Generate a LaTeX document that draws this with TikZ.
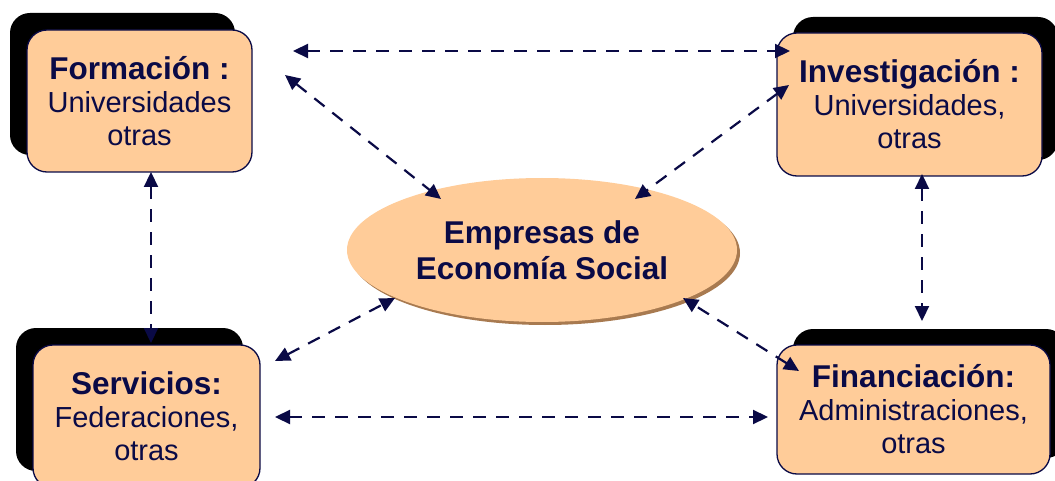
\documentclass[tikz,border=0pt]{standalone}
\usepackage{fontspec}
\setmainfont{Liberation Sans}
\usetikzlibrary{arrows.meta,shapes.geometric,shadows}
\definecolor{navy}{HTML}{0A0A46}
\definecolor{peach}{HTML}{FFCC99}
\definecolor{brownsh}{HTML}{A87A50}
\tikzset{
  box/.style={draw=navy, line width=1.3pt, fill=peach, rounded corners=20pt,
    align=center, text=navy, font=\fontsize{29}{33}\selectfont, inner sep=0pt},
  shul/.style={drop shadow={shadow xshift=-17pt, shadow yshift=17pt, fill=black, opacity=1}},
  shur/.style={drop shadow={shadow xshift=16pt, shadow yshift=16pt, fill=black, opacity=1}},
  ell/.style={ellipse, fill=peach, align=center, text=navy, inner sep=0pt,
    minimum width=390pt, minimum height=144pt,
    font=\fontsize{31.5}{36}\selectfont\bfseries,
    drop shadow={shadow xshift=3pt, shadow yshift=-3pt, fill=brownsh, opacity=1}},
  conn/.style={draw=navy, line width=2.2pt, dash pattern=on 13pt off 10pt,
    {Triangle[length=15pt,width=14pt]}-{Triangle[length=15pt,width=14pt]}},
}
\newcommand{\hd}[1]{{\fontsize{31.5}{33}\selectfont\bfseries #1}}
\begin{document}
\begin{tikzpicture}[x=1pt,y=-1pt]
\useasboundingbox (0,0) rectangle (1055,481);
\node[box, shul, minimum width=225pt, minimum height=142pt] (form) at (139.5,101)
  {\hd{Formación :}\\Universidades\\otras};
\node[box, shur, minimum width=265pt, minimum height=143pt] (inv) at (909.5,104.5)
  {\hd{Investigación :}\\Universidades,\\otras};
\node[box, shul, minimum width=227pt, minimum height=143pt] (serv) at (146.5,416.5)
  {\hd{Servicios:}\\Federaciones,\\otras};
\node[box, shur, minimum width=273pt, minimum height=129pt] (fin) at (913.5,409.5)
  {\hd{Financiación:}\\Administraciones,\\otras};
\node[ell] (ese) at (542,250) {Empresas de\\Economía Social};
% connector end points
\coordinate (fT) at (293,51);
\coordinate (iT) at (790,51);
\coordinate (fD) at (285,75);
\coordinate (eUL) at (441,199);
\coordinate (iD) at (789,85);
\coordinate (eUR) at (635,199);
\coordinate (fB) at (151,172);
\coordinate (sT) at (151,343);
\coordinate (iB) at (922,174);
\coordinate (nT) at (922,321);
\coordinate (sD) at (275,361);
\coordinate (eLL) at (395,298);
\coordinate (nD) at (799,371);
\coordinate (eLR) at (683,298);
\coordinate (sR) at (275,417);
\coordinate (nL) at (768,417);
\draw[conn] (fT) -- (iT);
\draw[conn] (fD) -- (eUL);
\draw[conn] (iD) -- (eUR);
\draw[conn] (fB) -- (sT);
\draw[conn] (iB) -- (nT);
\draw[conn] (sD) -- (eLL);
\draw[conn] (nD) -- (eLR);
\draw[conn] (sR) -- (nL);
\end{tikzpicture}
\end{document}
